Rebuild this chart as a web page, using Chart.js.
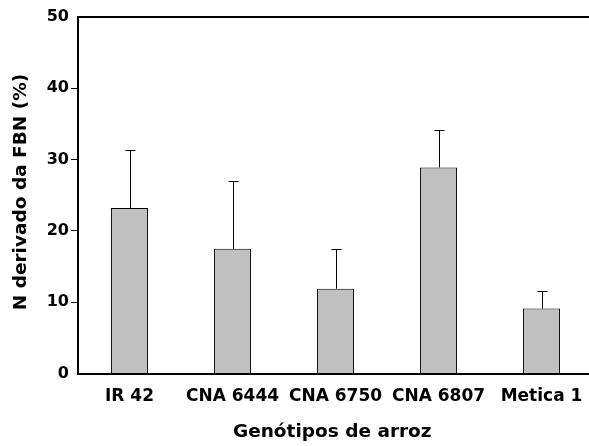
<!DOCTYPE html>
<html>
<head>
<meta charset="utf-8">
<script src="https://cdn.jsdelivr.net/npm/chart.js@4"></script>
<style>
  html, body { margin: 0; padding: 0; background: #fff; }
  #wrap { width: 589px; height: 446px; }
</style>
</head>
<body>
<div id="wrap"><canvas id="fbnChart" width="589" height="446"></canvas></div>
<script>
// data
const genotypes = ['IR 42', 'CNA 6444', 'CNA 6750', 'CNA 6807', 'Metica 1'];
const fbnMeans = [23.2, 17.5, 11.9, 28.9, 9.1];
const fbnErrors = [8.1, 9.5, 5.6, 5.2, 2.5];
const yTicks = [0, 10, 20, 30, 40, 50];

Chart.defaults.color = '#000';
Chart.defaults.font.family = '"DejaVu Sans", sans-serif';
Chart.defaults.font.weight = 'bold';

// the original plot runs a few pixels past the right edge of the image
const stretchRight = {
  id: 'stretchRight',
  afterLayout(chart) {
    const extra = 4;
    const x = chart.scales.x;
    chart.chartArea.right += extra;
    chart.chartArea.width += extra;
    x.right += extra;
    x.width += extra;
    x.configure();
  }
};

// upward error bars with a small cap, plus the top frame line
const errorBars = {
  id: 'errorBars',
  afterDatasetsDraw(chart) {
    const ctx = chart.ctx;
    const y = chart.scales.y;
    const meta = chart.getDatasetMeta(0);
    ctx.save();
    ctx.strokeStyle = '#000';
    ctx.lineWidth = 1;
    meta.data.forEach((bar, i) => {
      const top = y.getPixelForValue(fbnMeans[i] + fbnErrors[i]);
      const x = Math.round(bar.x) + 0.5;
      ctx.beginPath();
      ctx.moveTo(x, bar.y);
      ctx.lineTo(x, Math.round(top) + 0.5);
      ctx.moveTo(x - 5, Math.round(top) + 0.5);
      ctx.lineTo(x + 5, Math.round(top) + 0.5);
      ctx.stroke();
    });
    // top frame line
    const area = chart.chartArea;
    ctx.lineWidth = 2;
    ctx.beginPath();
    ctx.moveTo(area.left - 1, area.top);
    ctx.lineTo(chart.width, area.top);
    ctx.stroke();
    ctx.restore();
  }
};

const ctx = document.getElementById('fbnChart').getContext('2d');
const fbnChart = new Chart(ctx, {
  type: 'bar',
  data: {
    labels: genotypes,
    datasets: [{
      data: fbnMeans,
      backgroundColor: '#c0c0c0',
      borderColor: '#000',
      borderWidth: 1,
      borderSkipped: 'bottom',
      categoryPercentage: 1,
      barPercentage: 0.36
    }]
  },
  options: {
    responsive: false,
    animation: false,
    layout: { padding: { top: 17, right: 0, left: 0, bottom: 0 } },
    plugins: {
      legend: { display: false },
      tooltip: { enabled: false }
    },
    scales: {
      x: {
        offset: true,
        grid: { display: false, drawTicks: false },
        border: { color: '#000', width: 2 },
        ticks: { font: { size: 17, weight: 'bold' }, padding: 13, maxRotation: 0, autoSkip: false },
        title: {
          display: true,
          text: 'Genótipos de arroz ',
          font: { size: 18.5, weight: 'bold' },
          padding: { top: 0, bottom: 3 }
        },
        afterFit(scale) {
          scale.height = 72.5;
          scale.paddingLeft = 0;
          scale.paddingRight = 0;
        }
      },
      y: {
        min: 0,
        max: 50,
        afterBuildTicks(scale) { scale.ticks = yTicks.map(v => ({ value: v })); },
        grid: {
          drawOnChartArea: false,
          tickLength: 7,
          tickWidth: 1,
          color: c => (c.tick && (c.tick.value === 0 || c.tick.value === 50)) ? 'rgba(0,0,0,0)' : '#000'
        },
        border: { color: '#000', width: 2 },
        ticks: { font: { size: 16, weight: 'bold' }, padding: 2 },
        title: {
          display: true,
          text: ' N derivado da FBN (%)',
          font: { size: 18.5, weight: 'bold' },
          padding: { top: 10, bottom: 0 }
        },
        afterFit(scale) { scale.width = 78; }
      }
    }
  },
  plugins: [stretchRight, errorBars]
});
</script>
</body>
</html>
